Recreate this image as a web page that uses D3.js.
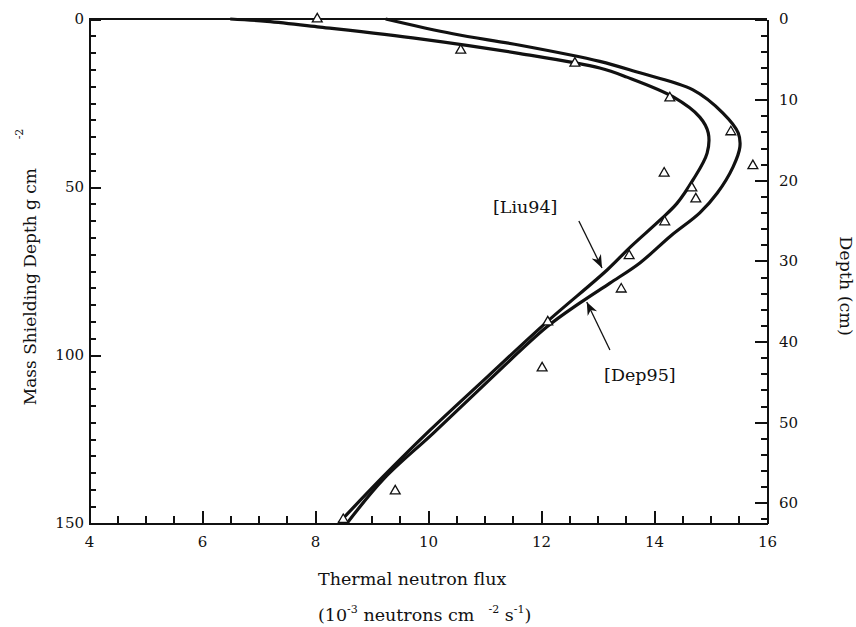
<!DOCTYPE html>
<html>
<head>
<meta charset="utf-8">
<title>Thermal neutron flux vs depth</title>
<style>
body { margin: 0; background: #ffffff; }
svg text { font-family: "DejaVu Serif", "Liberation Serif", serif; fill: #111111; }
.axis path, .axis line { stroke: #111111; stroke-width: 2px; shape-rendering: crispEdges; }
.axis text { font-size: 15px; }
.curve { fill: none; stroke: #111111; stroke-width: 3.2px; stroke-linejoin: round; }
.tri { fill: #ffffff; stroke: #111111; stroke-width: 1.3px; }
.arrow { stroke: #111111; stroke-width: 1.3px; }
</style>
</head>
<body>
<script src="https://d3js.org/d3.v7.min.js"></script>
<script>
'use strict';

// [Liu94] calculated profile: flux (1e-3 n cm-2 s-1) vs mass depth (g cm-2)
const liuFlux = [6.5, 7.15, 8.09, 9.86, 11.63, 13.04, 13.52, 14.34, 14.81, 14.96, 14.94, 14.69, 14.41, 14.11, 13.58, 13.17, 12.1, 11.05, 10.04, 9.2, 8.42];
const liuMass = [0, 0.7, 2.4, 5.9, 10.3, 14.6, 17.3, 23.2, 29.2, 33.9, 39.9, 47.9, 54.8, 59.8, 67.9, 74.7, 90.2, 106.5, 122.3, 136.3, 150];

// [Dep95] calculated profile
const depFlux = [9.25, 10.44, 11.63, 13.04, 13.7, 14.69, 15.22, 15.49, 15.52, 15.4, 15.12, 14.81, 14.3, 13.75, 13.22, 12.69, 12.1, 11.05, 10.09, 9.22, 8.57];
const depMass = [0, 4.4, 7.8, 12.6, 15.8, 21.1, 28.0, 33.9, 38.1, 44.0, 51.8, 57.7, 64.5, 72.6, 78.6, 84.5, 91.7, 108.0, 123.3, 136.8, 150];

// measured points (triangles)
const obsFlux = [8.04, 10.58, 12.6, 14.28, 15.36, 15.75, 14.18, 14.67, 14.74, 14.19, 13.56, 13.42, 12.12, 12.02, 9.42, 8.5];
const obsMass = [0, 9.3, 13.2, 23.5, 33.6, 43.7, 45.9, 50.3, 53.6, 60.4, 70.5, 80.4, 90.2, 103.9, 140.5, 149];

// tick values
const xMajor = [4, 6, 8, 10, 12, 14, 16];
const yMajor = [0, 50, 100, 150];
const depthMajor = [0, 10, 20, 30, 40, 50, 60];
const density = 2.4; // g cm-3, mass depth -> cm

const W = 856, H = 627;
const m = {left: 89, right: 767, top: 19, bottom: 523};

const x = d3.scaleLinear().domain([4, 16]).range([m.left, m.right]);
const y = d3.scaleLinear().domain([0, 150]).range([m.top, m.bottom]);
const yd = d3.scaleLinear().domain([0, 150 / density]).range([m.top, m.bottom]);

const svg = d3.select('body').append('svg')
	.attr('width', W)
	.attr('height', H);

// arrowhead
svg.append('defs').append('marker')
	.attr('id', 'head')
	.attr('viewBox', '0 0 10 10')
	.attr('refX', 10).attr('refY', 5)
	.attr('markerWidth', 13).attr('markerHeight', 13)
	.attr('markerUnits', 'userSpaceOnUse')
	.attr('orient', 'auto')
	.append('path')
	.attr('d', 'M0,1L10,5L0,9L3,5Z')
	.attr('fill', '#111');

// frame top line
svg.append('line')
	.attr('x1', m.left).attr('x2', m.right)
	.attr('y1', m.top).attr('y2', m.top)
	.attr('stroke', '#111').attr('stroke-width', 2)
	.attr('shape-rendering', 'crispEdges');

// bottom axis: minor then major
svg.append('g').attr('class', 'axis')
	.attr('transform', 'translate(0,' + m.bottom + ')')
	.call(d3.axisBottom(x).tickValues(d3.range(4, 16.01, 0.5)).tickSize(-7).tickSizeOuter(0).tickFormat(''));
svg.append('g').attr('class', 'axis')
	.attr('transform', 'translate(0,' + m.bottom + ')')
	.call(d3.axisBottom(x).tickValues(xMajor).tickSize(-12).tickSizeOuter(0).tickPadding(13));

// left axis
svg.append('g').attr('class', 'axis')
	.attr('transform', 'translate(' + m.left + ',0)')
	.call(d3.axisLeft(y).tickValues(d3.range(0, 151, 5)).tickSize(-7).tickSizeOuter(0).tickFormat(''));
svg.append('g').attr('class', 'axis')
	.attr('transform', 'translate(' + m.left + ',0)')
	.call(d3.axisLeft(y).tickValues(yMajor).tickSize(-12).tickSizeOuter(0).tickPadding(5));

// right axis (depth cm)
svg.append('g').attr('class', 'axis')
	.attr('transform', 'translate(' + m.right + ',0)')
	.call(d3.axisRight(yd).tickValues(d3.range(0, 62.01, 2)).tickSize(-6).tickSizeOuter(0).tickFormat(''));
svg.append('g').attr('class', 'axis')
	.attr('transform', 'translate(' + m.right + ',0)')
	.call(d3.axisRight(yd).tickValues(depthMajor).tickSize(-12).tickSizeOuter(0).tickPadding(12));

// curves
const line = d3.line()
	.x(d => x(d[0]))
	.y(d => y(d[1]))
	.curve(d3.curveCatmullRom.alpha(0.5));

svg.append('path').attr('class', 'curve')
	.attr('d', line(d3.zip(liuFlux, liuMass)));
svg.append('path').attr('class', 'curve')
	.attr('d', line(d3.zip(depFlux, depMass)));

// measured points
const tri = d3.symbol().type(d3.symbolTriangle).size(42);
svg.selectAll('.tri')
	.data(d3.zip(obsFlux, obsMass))
	.enter().append('path')
	.attr('class', 'tri')
	.attr('d', tri)
	.attr('transform', d => 'translate(' + x(d[0]) + ',' + y(d[1]) + ')');

// annotations
svg.append('line').attr('class', 'arrow')
	.attr('x1', x(12.67)).attr('y1', y(60.1))
	.attr('x2', x(13.08)).attr('y2', y(74.1))
	.attr('marker-end', 'url(#head)');
svg.append('text')
	.attr('x', x(11.72)).attr('y', y(57.6))
	.attr('text-anchor', 'middle')
	.style('font-size', '17.5px')
	.text('[Liu94]');

svg.append('line').attr('class', 'arrow')
	.attr('x1', x(13.22)).attr('y1', y(98.5))
	.attr('x2', x(12.81)).attr('y2', y(84.2))
	.attr('marker-end', 'url(#head)');
svg.append('text')
	.attr('x', x(13.75)).attr('y', y(107.6))
	.attr('text-anchor', 'middle')
	.style('font-size', '17.5px')
	.text('[Dep95]');

// axis titles
svg.append('text')
	.attr('x', 318).attr('y', 585)
	.style('font-size', '17.5px')
	.text('Thermal neutron flux');

const sub = svg.append('text')
	.attr('x', 318).attr('y', 621)
	.style('font-size', '17.5px');
sub.append('tspan').text('(10');
sub.append('tspan').attr('dy', -8).style('font-size', '11px').text('-3');
sub.append('tspan').attr('dy', 8).text(' neutrons cm');
sub.append('tspan').attr('dx', 14).attr('dy', -8).style('font-size', '11px').text('-2');
sub.append('tspan').attr('dy', 8).text(' s');
sub.append('tspan').attr('dy', -8).style('font-size', '11px').text('-1');
sub.append('tspan').attr('dy', 8).text(')');

svg.append('text')
	.attr('transform', 'translate(36,168) rotate(-90)')
	.attr('text-anchor', 'end')
	.style('font-size', '17px')
	.text('Mass Shielding Depth g cm');
svg.append('text')
	.attr('transform', 'translate(23,134) rotate(-90)')
	.attr('text-anchor', 'middle')
	.style('font-size', '11px')
	.text('-2');

svg.append('text')
	.attr('transform', 'translate(840,' + 286 + ') rotate(90)')
	.attr('text-anchor', 'middle')
	.style('font-size', '17.5px')
	.text('Depth (cm)');
</script>
</body>
</html>
